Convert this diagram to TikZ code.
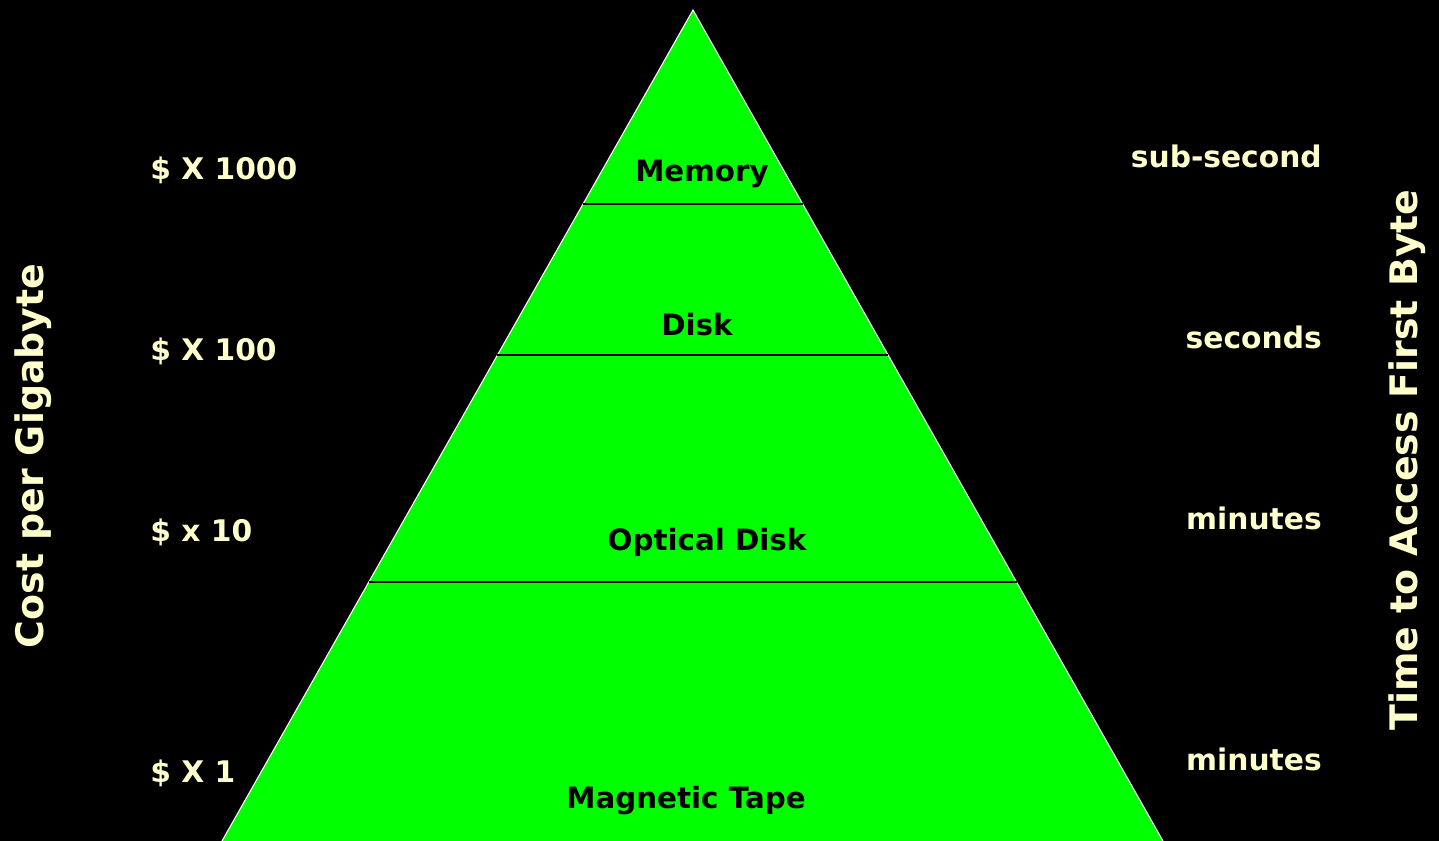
\documentclass[tikz,border=0pt]{standalone}
\usepackage{fontspec}
\setmainfont{DejaVu Sans}
\usetikzlibrary{calc}
\definecolor{cream}{RGB}{255,255,204}
\definecolor{tiergreen}{RGB}{0,255,0}
\tikzset{
  sidelabel/.style={text=cream, font=\bfseries\fontsize{22.3}{26}\selectfont, inner sep=0pt},
  axislabel/.style={text=cream, font=\bfseries\fontsize{28.4}{32}\selectfont, inner sep=0pt, rotate=90},
  tierlabel/.style={text=black, font=\bfseries\fontsize{22}{26}\selectfont, inner sep=0pt},
  divider/.style={black, line width=1pt}
}
\begin{document}
\begin{tikzpicture}[x=0.75pt, y=-0.75pt]
  % canvas
  \fill[black] (0,0) rectangle (1439,841);
  \useasboundingbox (0,0) rectangle (1439,841);

  % pyramid
  \coordinate (apex) at (693,10);
  \coordinate (bl) at (222,841);
  \coordinate (br) at (1163,841);
  \fill[tiergreen] (apex) -- (bl) -- (br) -- cycle;
  \draw[white, line width=0.8pt] (bl) -- (apex) -- (br);

  % tier boundaries
  \coordinate (l1) at ($(apex)!0.2335!(bl)$);
  \coordinate (r1) at ($(apex)!0.2335!(br)$);
  \coordinate (l2) at ($(apex)!0.4152!(bl)$);
  \coordinate (r2) at ($(apex)!0.4152!(br)$);
  \coordinate (l3) at ($(apex)!0.6883!(bl)$);
  \coordinate (r3) at ($(apex)!0.6883!(br)$);
  \draw[divider] (l1) -- (r1);
  \draw[divider] (l2) -- (r2);
  \draw[divider] (l3) -- (r3);

  % tier names
  \node[tierlabel] (mem) at (702,174) {Memory};
  \node[tierlabel] (disk) at (697,325) {Disk};
  \node[tierlabel] (opt) at (707,542) {Optical Disk};
  \node[tierlabel] (tape) at (686,801) {Magnetic Tape};

  % cost column
  \node[sidelabel, anchor=west] (c1000) at (150,170) {\$ X 1000};
  \node[sidelabel, anchor=west] (c100) at (150,351) {\$ X 100};
  \node[sidelabel, anchor=west] (c10) at (150,532) {\$ x 10};
  \node[sidelabel, anchor=west] (c1) at (150,773) {\$ X 1};

  % access time column
  \node[sidelabel, anchor=east] (t1) at (1322,156) {sub-second};
  \node[sidelabel, anchor=east] (t2) at (1322,337) {seconds};
  \node[sidelabel, anchor=east] (t3) at (1322,518) {minutes};
  \node[sidelabel, anchor=east] (t4) at (1322,759) {minutes};

  % axis titles
  \node[axislabel] (costaxis) at (33,456) {Cost per Gigabyte};
  \node[axislabel] (timeaxis) at (1407,460) {Time to Access First Byte};
\end{tikzpicture}
\end{document}
